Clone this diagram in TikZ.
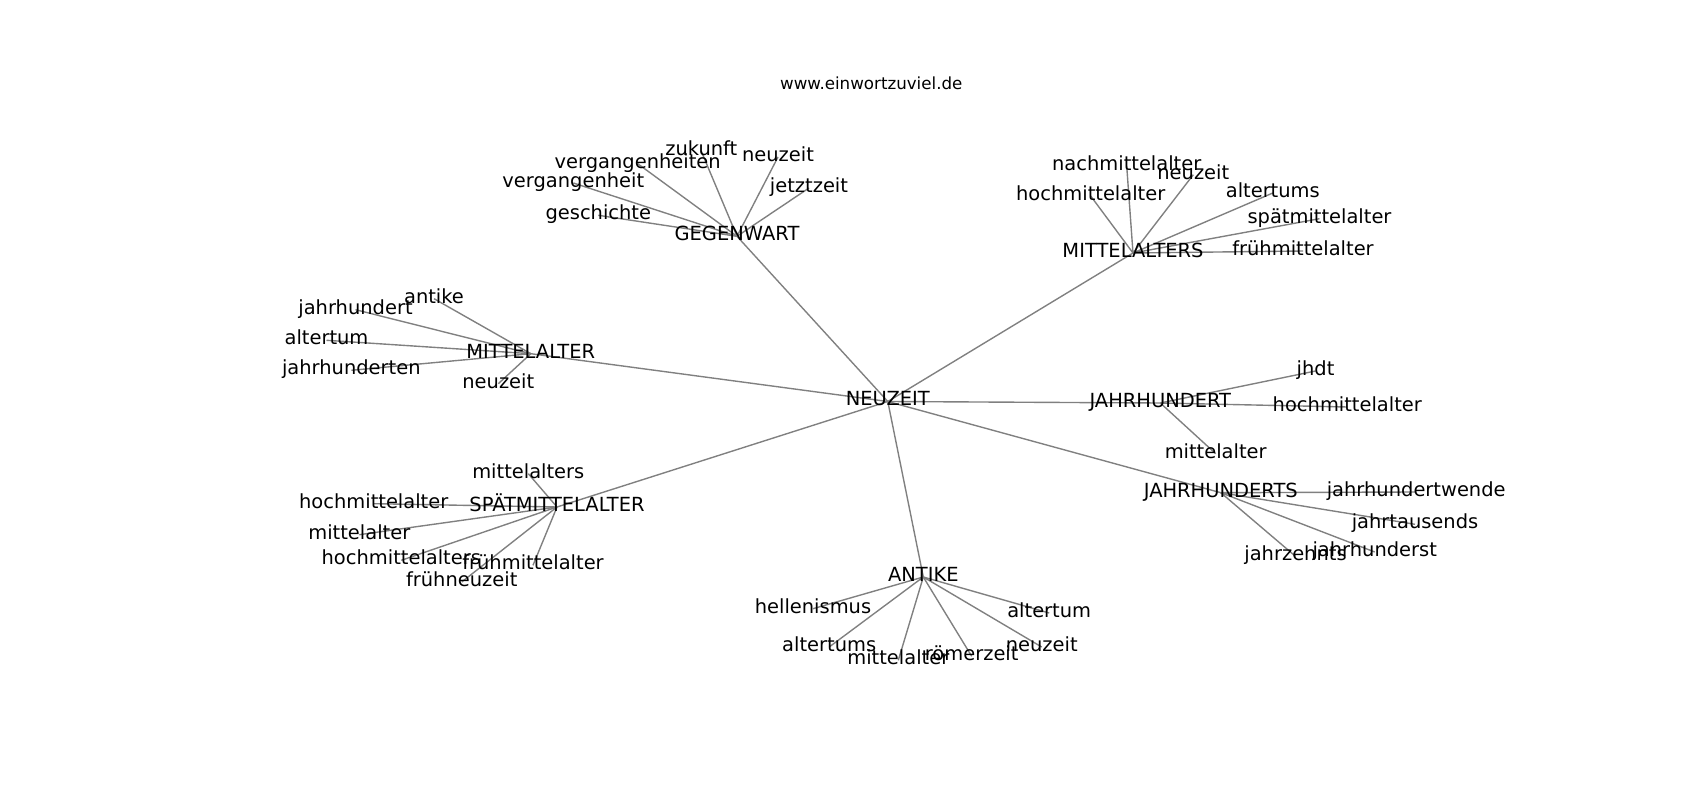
\documentclass[tikz,border=0pt]{standalone}
\usepackage{fontspec}
\setmainfont{DejaVu Sans}
\usetikzlibrary{backgrounds}
\tikzset{
  lbl/.style={font=\fontsize{14bp}{16bp}\selectfont, inner sep=0pt, text height=10.08bp, text depth=3.64bp, anchor=center},
  ttl/.style={font=\fontsize{12bp}{14bp}\selectfont, inner sep=0pt, anchor=base},
  edge/.style={draw=black!50, line width=1bp}
}
\begin{document}
\begin{tikzpicture}[x=0.01in, y=-0.01in]
\useasboundingbox (0,0) rectangle (1700,800);
\begin{scope}[shift={(0,1.5)}]
\node[ttl] (title) at (871.25,87.7) {www.einwortzuviel.de};
% hubs
\node[lbl] (NZ) at (887.8,400) {NEUZEIT};
\node[lbl] (G) at (737,234.8) {GEGENWART};
\node[lbl] (MS) at (1133,251.5) {MITTELALTERS};
\node[lbl] (M) at (530.8,352.2) {MITTELALTER};
\node[lbl] (S) at (557,505.5) {SPÄTMITTELALTER};
\node[lbl] (A) at (923.3,575.5) {ANTIKE};
\node[lbl] (J) at (1160.3,401.5) {JAHRHUNDERT};
\node[lbl] (JS) at (1220.8,491.2) {JAHRHUNDERTS};
% GEGENWART
\node[lbl] (g1) at (598.3,213.8) {geschichte};
\node[lbl] (g2) at (573.3,181.5) {vergangenheit};
\node[lbl] (g3) at (637.7,162.2) {vergangenheiten};
\node[lbl] (g4) at (701.3,149.8) {zukunft};
\node[lbl] (g5) at (778,155.5) {neuzeit};
\node[lbl] (g6) at (809,186.5) {jetztzeit};
% MITTELALTERS
\node[lbl] (m1) at (1126.7,164.5) {nachmittelalter};
\node[lbl] (m2) at (1193.3,173.2) {neuzeit};
\node[lbl] (m3) at (1090.7,194.5) {hochmittelalter};
\node[lbl] (m4) at (1272.8,191.5) {altertums};
\node[lbl] (m5) at (1319.5,217.2) {spätmittelalter};
\node[lbl] (m6) at (1303,249.5) {frühmittelalter};
% MITTELALTER
\node[lbl] (a1) at (434,297.2) {antike};
\node[lbl] (a2) at (355.5,308.2) {jahrhundert};
\node[lbl] (a3) at (326.5,338.8) {altertum};
\node[lbl] (a4) at (351.3,368.8) {jahrhunderten};
\node[lbl] (a5) at (498.3,382.2) {neuzeit};
% SPÄTMITTELALTER
\node[lbl] (s1) at (528.3,472.2) {mittelalters};
\node[lbl] (s2) at (373.7,502.2) {hochmittelalter};
\node[lbl] (s3) at (359.3,533.2) {mittelalter};
\node[lbl] (s4) at (401.3,558.8) {hochmittelalters};
\node[lbl] (s5) at (533,563.8) {frühmittelalter};
\node[lbl] (s6) at (461.7,580.5) {frühneuzeit};
% ANTIKE
\node[lbl] (t1) at (813,607.2) {hellenismus};
\node[lbl] (t2) at (1049.2,611.5) {altertum};
\node[lbl] (t3) at (829.2,645.5) {altertums};
\node[lbl] (t4) at (1041.7,645.5) {neuzeit};
\node[lbl] (t5) at (898.3,658.8) {mittelalter};
\node[lbl] (t6) at (971.7,654.8) {römerzeit};
% JAHRHUNDERT
\node[lbl] (j1) at (1315.5,369.5) {jhdt};
\node[lbl] (j2) at (1347.3,405.5) {hochmittelalter};
\node[lbl] (j3) at (1215.7,452.2) {mittelalter};
% JAHRHUNDERTS
\node[lbl] (k1) at (1416.2,490.5) {jahrhundertwende};
\node[lbl] (k2) at (1415,522.8) {jahrtausends};
\node[lbl] (k3) at (1374.7,550.5) {jahrhunderst};
\node[lbl] (k4) at (1295.5,554.8) {jahrzehnts};
\begin{pgfonlayer}{background}
\foreach \h in {G,MS,M,S,A,J,JS} \draw[edge] (NZ.center) -- (\h.center);
\foreach \l in {g1,g2,g3,g4,g5,g6} \draw[edge] (G.center) -- (\l.center);
\foreach \l in {m1,m2,m3,m4,m5,m6} \draw[edge] (MS.center) -- (\l.center);
\foreach \l in {a1,a2,a3,a4,a5} \draw[edge] (M.center) -- (\l.center);
\foreach \l in {s1,s2,s3,s4,s5,s6} \draw[edge] (S.center) -- (\l.center);
\foreach \l in {t1,t2,t3,t4,t5,t6} \draw[edge] (A.center) -- (\l.center);
\foreach \l in {j1,j2,j3} \draw[edge] (J.center) -- (\l.center);
\foreach \l in {k1,k2,k3,k4} \draw[edge] (JS.center) -- (\l.center);
\end{pgfonlayer}
\end{scope}
\end{tikzpicture}
\end{document}
